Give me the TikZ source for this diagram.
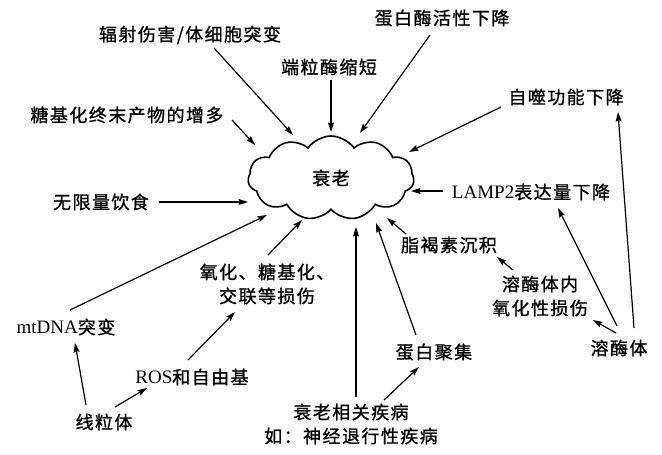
\documentclass[tikz,border=0pt]{standalone}
\usepackage{fontspec}
\setmainfont{Liberation Serif}
\newfontfamily\cjkf[LetterSpace=8,FakeBold=1]{Noto Sans CJK SC}
\newcommand\zh{\cjkf\fontsize{18}{24}\selectfont}
\usetikzlibrary{shapes.symbols,arrows.meta}
\tikzset{
  lbl/.style={inner sep=1pt, align=center, font=\zh},
  mix/.style={inner sep=1pt, align=center, font=\fontsize{19}{24}\selectfont},
  arr/.style={-{Stealth[length=9.5pt,width=6pt,inset=1.5pt]}, line width=1.2pt},
  cloudbox/.style={cloud, draw, cloud puffs=11, cloud puff arc=110, aspect=2,
    minimum width=166pt, minimum height=84pt, inner sep=0pt, line width=1.6pt, font=\zh},
}
\begin{document}
\begin{tikzpicture}[x=1pt,y=-1pt]
\useasboundingbox[fill=white] (0,0) rectangle (662,455);

% central cloud
\node[cloudbox] (cloud) at (331,178) {衰老};

% labels
\node[lbl] (rad)   at (190,35)  {辐射伤害/体细胞突变};
\node[lbl] (telo)  at (329,67)  {端粒酶缩短};
\node[lbl] (prot)  at (442,18)  {蛋白酶活性下降};
\node[lbl] (auto)  at (566,97)  {自噬功能下降};
\node[lbl] (age)   at (127,115) {糖基化终末产物的增多};
\node[lbl] (diet)  at (101,202) {无限量饮食};
\node[mix] (lamp)  at (531,192) {LAMP2{\zh 表达量下降}};
\node[lbl] (lipo)  at (449,245) {脂褐素沉积};
\node[lbl] (lysox) at (540,296) {溶酶体内\\氧化性损伤};
\node[lbl] (lyso)  at (619,348) {溶酶体};
\node[lbl] (agg)   at (434,352) {蛋白聚集};
\node[lbl] (dis)   at (351,424) {衰老相关疾病\\如：神经退行性疾病};
\node[lbl] (oxd)   at (267,284) {氧化、糖基化、\\交联等损伤};
\node[mix] (mt)    at (66,327)  {mtDNA{\zh 突变}};
\node[mix] (ros)   at (192,377) {ROS{\zh 和自由基}};
\node[lbl] (mito)  at (104,422) {线粒体};

% end points on the cloud outline
\coordinate (e1)  at (293,135);
\coordinate (e2)  at (331,132);
\coordinate (e3)  at (360,133);
\coordinate (e4)  at (409,152);
\coordinate (e5)  at (255,145);
\coordinate (e6)  at (248,202);
\coordinate (e7)  at (411,191);
\coordinate (e8)  at (387,218);
\coordinate (e9)  at (356,227);
\coordinate (e10) at (376,223);
\coordinate (e16) at (267,215);
\coordinate (e17) at (302,220);

% connectors into the cloud
\draw[arr] ([shift={(24,13)}]rad.center)   -- (e1);
\draw[arr] ([shift={(2,13)}]telo.center)   -- (e2);
\draw[arr] ([shift={(-12,17)}]prot.center) -- (e3);
\draw[arr] ([shift={(-65,10)}]auto.center) -- (e4);
\draw[arr] ([shift={(105,5)}]age.center)   -- (e5);
\draw[arr] ([shift={(58,0)}]diet.center)   -- (e6);
\draw[arr] ([shift={(-88,-1)}]lamp.center) -- (e7);
\draw[arr] ([shift={(-43,-11)}]lipo.center) -- (e8);
\draw[arr] ([shift={(5,-27)}]dis.center)   -- (e9);
\draw[arr] ([shift={(-18,-17)}]agg.center) -- (e10);
\draw[arr] ([shift={(4,-17)}]mt.center)    -- (e16);
\draw[arr] ([shift={(1,-29)}]oxd.center)   -- (e17);

% node to node connectors
\draw[arr] ([shift={(33,-24)}]dis.center)   -- ([shift={(-15,15)}]agg.center);
\draw[arr] ([shift={(-27,-26)}]lysox.center) -- ([shift={(48,12)}]lipo.center);
\draw[arr] ([shift={(-3,-15)}]lyso.center)  -- ([shift={(53,24)}]lysox.center);
\draw[arr] ([shift={(-2,-22)}]lyso.center)  -- ([shift={(27,16)}]lamp.center);
\draw[arr] ([shift={(15,-20)}]lyso.center)  -- ([shift={(52,15)}]auto.center);
\draw[arr] ([shift={(-4,-17)}]ros.center)   -- ([shift={(-32,28)}]oxd.center);
\draw[arr] ([shift={(-18,-17)}]mito.center) -- ([shift={(9,16)}]mt.center);
\draw[arr] ([shift={(11,-15)}]mito.center)  -- ([shift={(-45,11)}]ros.center);
\end{tikzpicture}
\end{document}
